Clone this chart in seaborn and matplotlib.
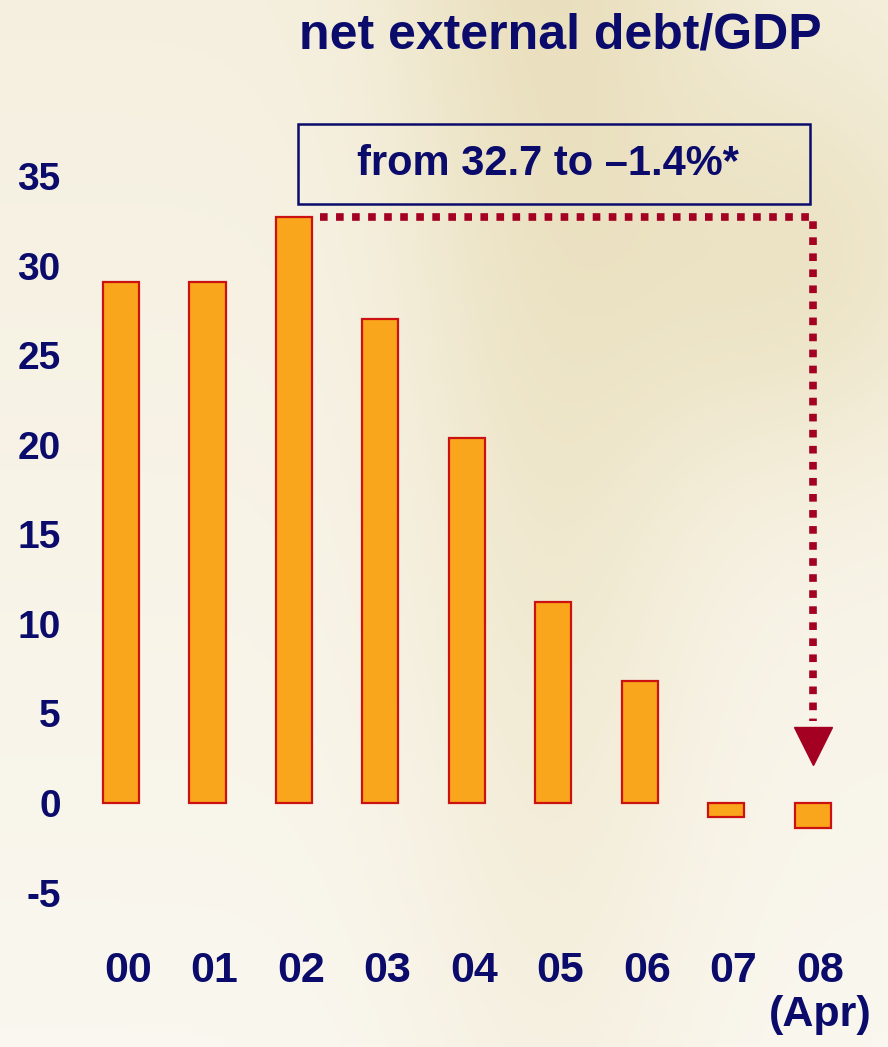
import matplotlib
matplotlib.use('Agg')
import matplotlib.pyplot as plt
import matplotlib.transforms as mtransforms
import numpy as np
import pandas as pd
import seaborn as sns
from matplotlib.colors import LinearSegmentedColormap
from matplotlib.patches import Rectangle

# data
years = ['00', '01', '02', '03', '04', '05', '06', '07', '08\n(Apr)']
debt_gdp = [29.1, 29.1, 32.7, 27.0, 20.4, 11.2, 6.8, -0.8, -1.4]
yticks = [-5, 0, 5, 10, 15, 20, 25, 30, 35]
title = 'net external debt/GDP'
note = 'from 32.7 to \u20131.4%*'

navy = '#0B0B6B'
bar_col = '#F9A61C'
edge_col = '#CC1111'
arrow_col = '#A30022'
bg = '#F5F0E0'

sns.set_style('white')
plt.rcParams['font.family'] = ['Liberation Sans', 'DejaVu Sans']

df = pd.DataFrame({'year': years, 'value': debt_gdp})

fig = plt.figure(figsize=(8.88, 10.47), dpi=100)
fig.patch.set_facecolor(bg)

# soft background shading, like the faded banknote behind the chart
bgax = fig.add_axes([0, 0, 1, 1], zorder=-1)
gx, gy = np.meshgrid(np.linspace(0, 1, 300), np.linspace(0, 1, 300))
shade = (0.55 * np.exp(-((gx - 0.62) ** 2) / 0.03) * (0.4 + 0.6 * gy)
         + 0.45 * np.exp(-((gx - 0.9) ** 2 + (gy - 0.75) ** 2) / 0.04)
         + 0.25 * gy)
cream = LinearSegmentedColormap.from_list('cream', ['#FAF7EF', '#EFE7CC', '#E4D8B0'])
bgax.imshow(shade, cmap=cream, vmin=0, vmax=1.1,
            extent=[0, 1, 0, 1], aspect='auto', origin='lower')
bgax.axis('off')

ax = fig.add_axes([0.0777, 0.1133, 0.896, 0.7699])
ax.patch.set_alpha(0)
sns.barplot(data=df, x='year', y='value', color=bar_col, width=0.42,
            edgecolor=edge_col, linewidth=1.6, saturation=1, ax=ax)

ax.set_ylim(-7, 38)
ax.set_xlim(-0.6, 8.6)
ax.set_yticks(yticks)
ax.set_yticklabels([str(t) for t in yticks], fontsize=28, fontweight='bold', color=navy)
ax.tick_params(axis='y', length=0, pad=6)
ax.tick_params(axis='x', length=0, pad=16)
shift = mtransforms.ScaledTranslation(7 / 100, 0, fig.dpi_scale_trans)
for lab in ax.get_xticklabels():
    lab.set_fontsize(31)
    lab.set_fontweight('bold')
    lab.set_color(navy)
    lab.set_verticalalignment('top')
    lab.set_linespacing(1.15)
    lab.set_transform(lab.get_transform() + shift)
ax.set_xlabel('')
ax.set_ylabel('')
sns.despine(ax=ax, left=True, bottom=True)

# dotted arrow from the 2002 peak to the latest value
peak_i = int(np.argmax(debt_gdp))
last_i = len(debt_gdp) - 1
ax.plot([peak_i + 0.3, last_i, last_i], [debt_gdp[peak_i], debt_gdp[peak_i], 4.6],
        color=arrow_col, lw=5.5, linestyle=(0, (1, 1.1)), dash_capstyle='butt', zorder=5)
ax.plot([last_i], [3.2], marker='v', markersize=27, color=arrow_col, zorder=6)

# boxed note and title
fig.add_artist(Rectangle((298 / 888, 1 - 204 / 1047), 512 / 888, 80 / 1047,
                         transform=fig.transFigure, fill=False, edgecolor=navy, lw=1.8))
fig.text(548 / 888, 1 - 164 / 1047, note, ha='center', va='center',
         fontsize=30, fontweight='bold', color=navy)
fig.text(560 / 888, 1 - 35 / 1047, title, ha='center', va='center',
         fontsize=36, fontweight='bold', color=navy)

fig.savefig('out.png', dpi=100, facecolor=bg)
